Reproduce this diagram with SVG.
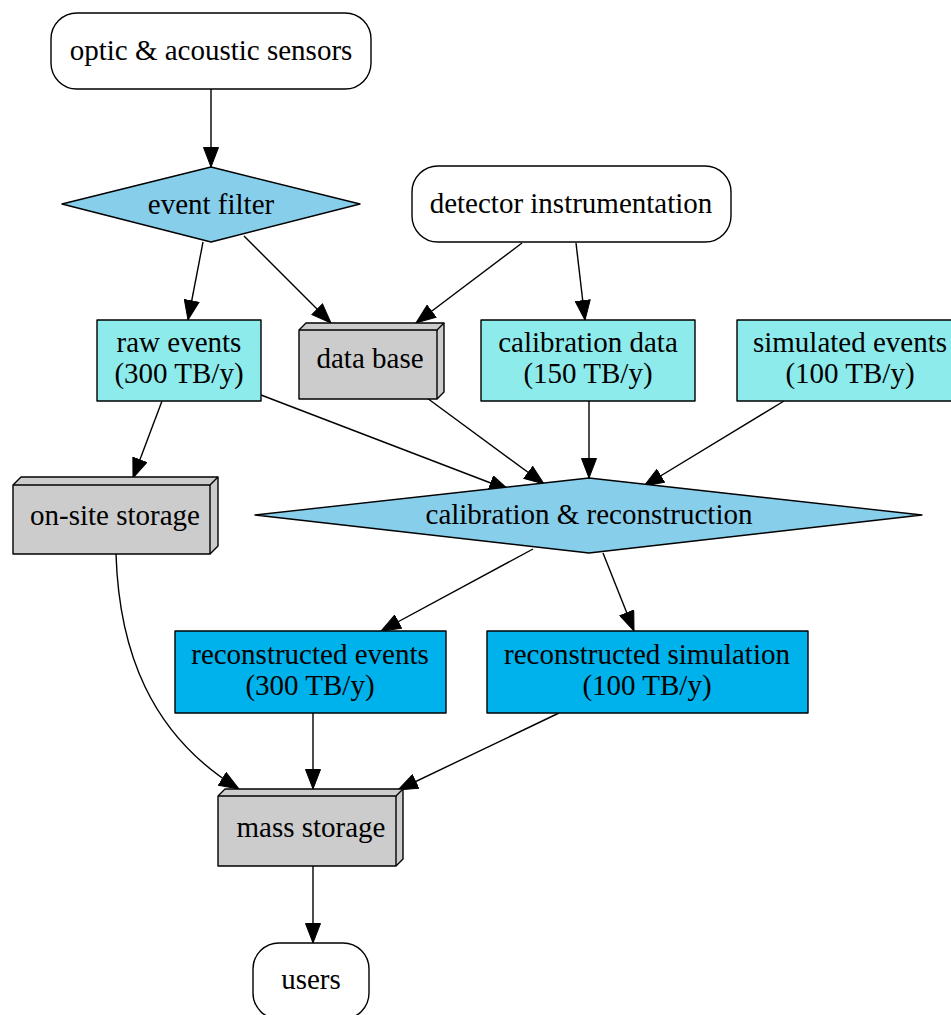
<svg xmlns="http://www.w3.org/2000/svg" width="951" height="1015" viewBox="0 0 951 1015">
<style>
text{font-size:29px;fill:#000;text-anchor:middle}
.sh{stroke:#000;stroke-width:1.4;stroke-linejoin:round}
.w{fill:#fff}
.cy{fill:#8eebec}
.sk{fill:#87ceeb}
.db{fill:#00b2ec}
.gr{fill:#cccccc}
.e{fill:none;stroke:#000;stroke-width:1.4;marker-end:url(#ah)}
</style>
<defs>
<marker id="ah" markerUnits="userSpaceOnUse" markerWidth="21" markerHeight="16" refX="20" refY="8" orient="auto" viewBox="0 0 21 16">
<path d="M0.5,0.5 L20,8 L0.5,15.5 z" fill="#000" stroke="#000" stroke-width="1"/>
</marker>
</defs>
<rect width="951" height="1015" fill="#fff"/>
<g id="edges">
<path class="e" d="M211,89 L211,167"/>
<path class="e" d="M203,242 L188,320"/>
<path class="e" d="M244,236 L331,323"/>
<path class="e" d="M522,243 L416,323"/>
<path class="e" d="M576,243 L585,320"/>
<path class="e" d="M162,401 L133,478"/>
<path class="e" d="M261,395 L509,490"/>
<path class="e" d="M427,398 L544,484"/>
<path class="e" d="M589,401 L589,478"/>
<path class="e" d="M784,401 L644,486"/>
<path class="e" d="M116,554 C119,650 150,735 239,789"/>
<path class="e" d="M533,549 L381,631"/>
<path class="e" d="M603,553 L634,631"/>
<path class="e" d="M313,713 L313,789"/>
<path class="e" d="M559,713 L398,790"/>
<path class="e" d="M313,866 L313,943"/>
</g>
<g font-family="'Liberation Serif', Tinos, 'Times New Roman', Times, serif">
<g id="sensors"><rect class="sh w" x="51" y="13" width="320" height="76" rx="26"/><text x="211" y="60">optic &amp; acoustic sensors</text></g>
<g id="filter"><polygon class="sh sk" points="62,204 211,167 360,204 211,242"/><text x="211" y="214">event filter</text></g>
<g id="detector"><rect class="sh w" x="412" y="166" width="319" height="76" rx="26"/><text x="571" y="213">detector instrumentation</text></g>
<g id="raw"><rect class="sh cy" x="97" y="320" width="164" height="81"/><text x="179" y="352">raw events</text><text x="179" y="383">(300 TB/y)</text></g>
<g id="database"><polygon class="sh gr" points="299,330 306,323 444,323 444,392 437,399 299,399"/><polyline class="sh" fill="none" points="299,330 437,330 444,323"/><line class="sh" x1="437" y1="330" x2="437" y2="399"/><text x="370" y="368">data base</text></g>
<g id="caldata"><rect class="sh cy" x="481" y="320" width="214" height="81"/><text x="588" y="352">calibration data</text><text x="588" y="383">(150 TB/y)</text></g>
<g id="simulated"><rect class="sh cy" x="737" y="320" width="216" height="81"/><text x="850" y="352">simulated events</text><text x="850" y="383">(100 TB/y)</text></g>
<g id="onsite"><polygon class="sh gr" points="13,485 21,477 218,477 218,546 210,554 13,554"/><polyline class="sh" fill="none" points="13,485 210,485 218,477"/><line class="sh" x1="210" y1="485" x2="210" y2="554"/><text x="115" y="525">on-site storage</text></g>
<g id="calrec"><polygon class="sh sk" points="255,515 589,478 922,515 589,553"/><text x="589" y="524">calibration &amp; reconstruction</text></g>
<g id="recevents"><rect class="sh db" x="175" y="631" width="271" height="82"/><text x="310" y="664">reconstructed events</text><text x="310" y="695">(300 TB/y)</text></g>
<g id="recsim"><rect class="sh db" x="487" y="631" width="321" height="82"/><text x="647" y="664">reconstructed simulation</text><text x="647" y="695">(100 TB/y)</text></g>
<g id="mass"><polygon class="sh gr" points="218,796 225,789 403,789 403,859 396,866 218,866"/><polyline class="sh" fill="none" points="218,796 396,796 403,789"/><line class="sh" x1="396" y1="796" x2="396" y2="866"/><text x="311" y="837">mass storage</text></g>
<g id="users"><rect class="sh w" x="253" y="943" width="116" height="76" rx="26"/><text x="311" y="989">users</text></g>
</g>
</svg>
